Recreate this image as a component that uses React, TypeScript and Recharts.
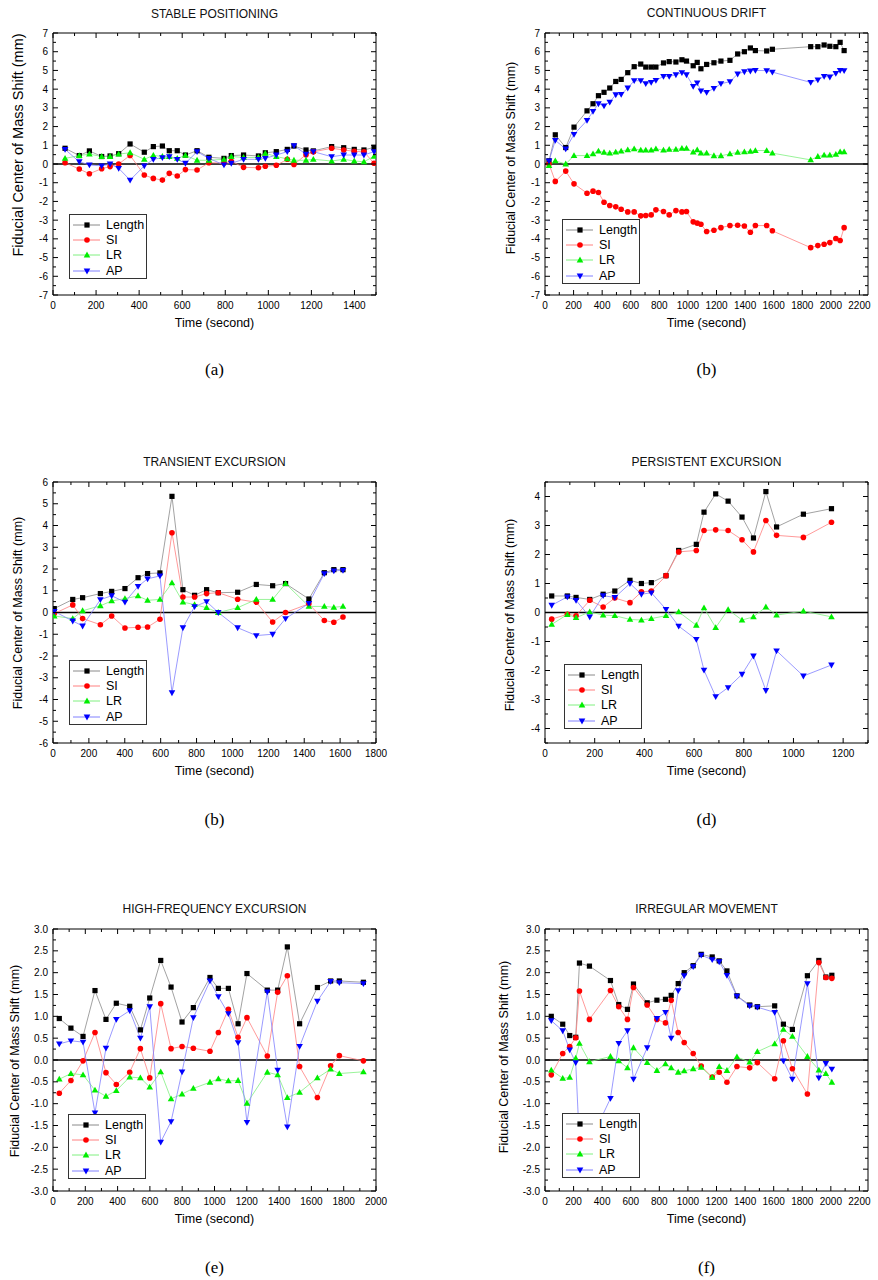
import React from "react"
import {
  LineChart,
  Line,
  XAxis,
  YAxis,
  ReferenceLine,
  ReferenceArea,
  Legend,
} from "recharts"

const FONT = '"Liberation Sans", Arial, Helvetica, sans-serif'
const Y_W = 40
const X_H = 30

// (a) stable positioning
const stableTime = [56, 122, 169, 226, 265, 305, 358, 424, 466, 508, 540, 577, 615, 669, 724, 794, 828, 885, 954, 986, 1037, 1088, 1119, 1175, 1209, 1294, 1350, 1399, 1444, 1491]
const stableLength = [0.84, 0.45, 0.7, 0.4, 0.43, 0.55, 1.07, 0.63, 0.93, 0.96, 0.71, 0.71, 0.48, 0.71, 0.36, 0.3, 0.45, 0.48, 0.43, 0.6, 0.66, 0.78, 0.96, 0.75, 0.7, 0.93, 0.87, 0.78, 0.75, 0.89]
const stableSI = [0.07, -0.27, -0.52, -0.25, -0.14, 0.0, 0.46, -0.59, -0.77, -0.86, -0.5, -0.64, -0.3, -0.32, 0.07, 0.05, 0.15, -0.18, -0.2, -0.12, -0.07, 0.25, -0.03, 0.5, 0.65, 0.84, 0.75, 0.68, 0.65, 0.04]
const stableLR = [0.3, 0.45, 0.53, 0.4, 0.4, 0.53, 0.6, 0.25, 0.46, 0.4, 0.4, 0.3, 0.46, 0.2, 0.2, 0.25, 0.4, 0.35, 0.35, 0.57, 0.4, 0.27, 0.2, 0.2, 0.25, 0.16, 0.25, 0.16, 0.12, 0.41]
const stableAP = [0.78, 0.12, -0.05, -0.1, 0.0, -0.23, -0.86, -0.1, 0.25, 0.34, 0.39, 0.25, 0.04, 0.66, 0.3, -0.05, 0.04, 0.25, 0.25, 0.3, 0.48, 0.66, 0.98, 0.52, 0.66, 0.39, 0.48, 0.48, 0.48, 0.66]

// (b) continuous drift
const driftTime = [28, 72, 145, 203, 294, 336, 374, 413, 453, 495, 533, 579, 624, 670, 705, 743, 776, 829, 869, 916, 958, 990, 1037, 1065, 1091, 1131, 1182, 1231, 1294, 1348, 1395, 1437, 1472, 1551, 1591, 1859, 1909, 1953, 1993, 2035, 2065, 2093]
const driftLength = [0.17, 1.56, 0.88, 1.97, 2.84, 3.22, 3.65, 3.83, 4.06, 4.41, 4.52, 4.88, 5.2, 5.34, 5.18, 5.18, 5.18, 5.4, 5.47, 5.45, 5.57, 5.5, 5.25, 5.43, 5.09, 5.32, 5.41, 5.5, 5.54, 5.88, 6.0, 6.2, 6.06, 6.04, 6.13, 6.27, 6.27, 6.36, 6.29, 6.27, 6.5, 6.06]
const driftSI = [0.0, -0.93, -0.38, -1.06, -1.56, -1.45, -1.52, -2.04, -2.22, -2.29, -2.42, -2.56, -2.56, -2.77, -2.75, -2.72, -2.45, -2.54, -2.72, -2.49, -2.56, -2.54, -3.09, -3.16, -3.22, -3.61, -3.54, -3.4, -3.29, -3.27, -3.31, -3.65, -3.29, -3.29, -3.57, -4.47, -4.36, -4.29, -4.2, -3.98, -4.09, -3.4]
const driftLR = [-0.08, 0.17, 0.0, 0.45, 0.45, 0.54, 0.69, 0.62, 0.58, 0.63, 0.69, 0.76, 0.81, 0.74, 0.74, 0.74, 0.81, 0.74, 0.78, 0.78, 0.83, 0.83, 0.63, 0.76, 0.58, 0.58, 0.44, 0.44, 0.54, 0.62, 0.65, 0.67, 0.72, 0.72, 0.58, 0.22, 0.4, 0.47, 0.47, 0.51, 0.65, 0.65]
const driftAP = [0.17, 1.26, 0.81, 1.58, 2.33, 2.81, 3.22, 3.11, 3.31, 3.7, 3.72, 4.06, 4.45, 4.45, 4.29, 4.36, 4.47, 4.68, 4.68, 4.77, 4.88, 4.77, 4.15, 4.34, 3.91, 3.83, 4.04, 4.29, 4.4, 4.81, 4.93, 4.97, 5.0, 4.99, 4.91, 4.36, 4.5, 4.68, 4.65, 4.84, 5.0, 4.99]

// (c) transient excursion
const transientTime = [7, 110, 165, 264, 327, 401, 474, 527, 596, 663, 724, 789, 856, 921, 1029, 1133, 1224, 1296, 1426, 1512, 1565, 1616]
const transientLength = [0.18, 0.6, 0.68, 0.87, 0.97, 1.1, 1.6, 1.79, 1.82, 5.34, 1.05, 0.79, 1.05, 0.91, 0.93, 1.29, 1.23, 1.33, 0.62, 1.83, 1.97, 1.97]
const transientSI = [-0.05, 0.35, -0.28, -0.56, -0.16, -0.71, -0.68, -0.67, -0.31, 3.67, 0.71, 0.71, 0.87, 0.91, 0.61, 0.47, -0.44, 0.0, 0.4, -0.37, -0.45, -0.21]
const transientLR = [-0.16, -0.28, 0.08, 0.31, 0.53, 0.64, 0.76, 0.56, 0.6, 1.36, 0.48, 0.36, 0.22, 0.0, 0.22, 0.6, 0.6, 1.33, 0.28, 0.28, 0.24, 0.28]
const transientAP = [0.05, -0.39, -0.62, 0.59, 0.77, 0.48, 1.2, 1.55, 1.68, -3.69, -0.7, 0.27, 0.5, 0.0, -0.7, -1.06, -1.0, -0.28, 0.42, 1.79, 1.91, 1.94]

// (d) persistent excursion
const persistentTime = [27, 90, 125, 180, 234, 281, 342, 388, 428, 487, 538, 609, 640, 687, 737, 793, 839, 889, 932, 1040, 1153]
const persistentLength = [0.57, 0.57, 0.52, 0.45, 0.63, 0.74, 1.11, 1.0, 1.03, 1.27, 2.14, 2.35, 3.46, 4.09, 3.84, 3.29, 2.57, 4.17, 2.95, 3.39, 3.58]
const persistentSI = [-0.23, -0.06, -0.11, 0.42, 0.19, 0.5, 0.34, 0.71, 0.74, 1.27, 2.09, 2.14, 2.83, 2.85, 2.83, 2.51, 2.09, 3.17, 2.66, 2.59, 3.11]
const persistentLR = [-0.41, -0.07, -0.18, 0.02, -0.09, -0.11, -0.24, -0.26, -0.21, -0.11, 0.02, -0.44, 0.16, -0.52, 0.1, -0.26, -0.15, 0.19, -0.09, 0.05, -0.15]
const persistentAP = [0.25, 0.54, 0.42, -0.15, 0.58, 0.52, 1.0, 0.63, 0.68, 0.11, -0.47, -0.93, -1.99, -2.9, -2.59, -2.13, -1.5, -2.69, -1.32, -2.19, -1.81]

// (e) high-frequency excursion
const highFreqTime = [39, 111, 186, 260, 328, 392, 475, 541, 599, 667, 731, 799, 869, 972, 1024, 1086, 1146, 1201, 1327, 1391, 1451, 1527, 1637, 1719, 1773, 1922]
const highFreqLength = [0.95, 0.73, 0.54, 1.59, 0.93, 1.3, 1.23, 0.69, 1.42, 2.28, 1.67, 0.87, 1.2, 1.89, 1.64, 1.64, 0.83, 1.98, 1.6, 1.6, 2.59, 0.83, 1.66, 1.81, 1.81, 1.78]
const highFreqSI = [-0.76, -0.47, -0.02, 0.63, -0.29, -0.56, -0.28, 0.26, -0.41, 1.29, 0.26, 0.31, 0.27, 0.2, 0.63, 1.16, 0.52, 0.97, 0.09, 1.55, 1.93, -0.15, -0.86, -0.13, 0.1, -0.02]
const highFreqLR = [-0.44, -0.31, -0.34, -0.69, -0.83, -0.7, -0.39, -0.41, -0.62, -0.27, -0.89, -0.78, -0.65, -0.51, -0.43, -0.48, -0.47, -0.99, -0.28, -0.34, -0.86, -0.74, -0.41, -0.21, -0.31, -0.27]
const highFreqAP = [0.37, 0.44, 0.41, -1.21, 0.27, 0.93, 1.13, 0.5, 1.22, -1.88, -1.41, -0.27, 0.97, 1.81, 1.45, 1.06, 0.4, -1.43, 1.56, -0.23, -1.53, 0.31, 1.35, 1.8, 1.77, 1.75]

// (f) irregular movement
const irregularTime = [44, 124, 173, 215, 241, 311, 458, 516, 577, 619, 715, 783, 843, 883, 932, 974, 1037, 1093, 1170, 1219, 1273, 1343, 1432, 1486, 1607, 1668, 1731, 1836, 1916, 1965, 2007]
const irregularLength = [1.0, 0.82, 0.56, 0.52, 2.22, 2.15, 1.82, 1.27, 1.16, 1.74, 1.31, 1.37, 1.39, 1.48, 1.75, 2.0, 2.16, 2.42, 2.36, 2.27, 2.04, 1.47, 1.26, 1.22, 1.24, 0.82, 0.7, 1.93, 2.28, 1.9, 1.94]
const irregularSI = [-0.34, 0.15, 0.31, 0.51, 1.58, 0.93, 1.59, 1.22, 0.93, 1.66, 1.26, 0.93, 0.85, 1.37, 0.63, 0.4, 0.15, -0.14, -0.39, -0.28, -0.51, -0.15, -0.18, -0.06, -0.43, 0.44, -0.2, -0.78, 2.23, 1.89, 1.87]
const irregularLR = [-0.23, -0.42, -0.4, 0.04, 0.38, -0.04, 0.08, -0.02, -0.18, 0.28, -0.06, -0.24, -0.09, -0.18, -0.28, -0.25, -0.2, -0.17, -0.4, -0.15, -0.24, 0.07, -0.05, 0.19, 0.37, 0.7, 0.54, 0.08, -0.23, -0.31, -0.51]
const irregularAP = [0.9, 0.67, 0.23, -0.06, -1.9, -1.9, -0.88, 0.38, 0.67, -0.44, 0.28, 0.95, 1.09, 0.5, 1.59, 1.93, 2.14, 2.4, 2.3, 2.25, 1.94, 1.46, 1.24, 1.21, 1.09, -0.02, -0.44, 1.75, -0.41, -0.08, -0.21]

// tick labels
const xTicks1200 = [0, 200, 400, 600, 800, 1000, 1200]
const xTicks1400 = [0, 200, 400, 600, 800, 1000, 1200, 1400]
const xTicks1800 = [0, 200, 400, 600, 800, 1000, 1200, 1400, 1600, 1800]
const xTicks2000 = [0, 200, 400, 600, 800, 1000, 1200, 1400, 1600, 1800, 2000]
const xTicks2200 = [0, 200, 400, 600, 800, 1000, 1200, 1400, 1600, 1800, 2000, 2200]
const yTicks7 = [-7, -6, -5, -4, -3, -2, -1, 0, 1, 2, 3, 4, 5, 6, 7]
const yTicks6 = [-6, -5, -4, -3, -2, -1, 0, 1, 2, 3, 4, 5, 6]
const yTicks4 = [-4, -3, -2, -1, 0, 1, 2, 3, 4]
const yTicks3 = [-3, -2.5, -2, -1.5, -1, -0.5, 0, 0.5, 1, 1.5, 2, 2.5, 3]

const SERIES = [
  { key: "Length", dot: "#000000", line: "#8a8a8a", shape: "square" },
  { key: "SI", dot: "#ff0000", line: "#ff8080", shape: "circle" },
  { key: "LR", dot: "#00ee00", line: "#80f080", shape: "up" },
  { key: "AP", dot: "#0000ff", line: "#8080ff", shape: "down" },
]

const PANELS = [
  {
    title: "STABLE POSITIONING", tag: "(a)", left: 0, top: 0, width: 400, height: 340,
    plot: { l: 53, t: 33, r: 376, b: 295 }, titleY: 14, tagY: 370,
    xDomain: [0, 1500], xMajor: xTicks1400, yDomain: [-7, 7], yMajor: yTicks7, yDec: 0,
    yLabel: { x: 18, y: 145, size: 14.5 }, legend: { x: 69, y: 214 },
    time: stableTime, length: stableLength, si: stableSI, lr: stableLR, ap: stableAP,
  },
  {
    title: "CONTINUOUS DRIFT", tag: "(b)", left: 440, top: 0, width: 438, height: 340,
    plot: { l: 105, t: 33, r: 428, b: 295 }, titleY: 13, tagY: 370,
    xDomain: [0, 2260], xMajor: xTicks2200, yDomain: [-7, 7], yMajor: yTicks7, yDec: 0,
    yLabel: { x: 71, y: 158, size: 12.5 }, legend: { x: 122, y: 219 },
    time: driftTime, length: driftLength, si: driftSI, lr: driftLR, ap: driftAP,
  },
  {
    title: "TRANSIENT EXCURSION", tag: "(b)", left: 0, top: 440, width: 400, height: 340,
    plot: { l: 53, t: 42, r: 376, b: 303 }, titleY: 22, tagY: 380,
    xDomain: [0, 1800], xMajor: xTicks1800, yDomain: [-6, 6], yMajor: yTicks6, yDec: 0,
    yLabel: { x: 18, y: 173, size: 12.5 }, legend: { x: 69, y: 220 },
    time: transientTime, length: transientLength, si: transientSI, lr: transientLR, ap: transientAP,
  },
  {
    title: "PERSISTENT EXCURSION", tag: "(d)", left: 440, top: 440, width: 438, height: 340,
    plot: { l: 105, t: 42, r: 428, b: 303 }, titleY: 22, tagY: 380,
    xDomain: [0, 1300], xMajor: xTicks1200, yDomain: [-4.5, 4.5], yMajor: yTicks4, yDec: 0,
    yLabel: { x: 70, y: 175, size: 12.5 }, legend: { x: 124, y: 224 },
    time: persistentTime, length: persistentLength, si: persistentSI, lr: persistentLR, ap: persistentAP,
  },
  {
    title: "HIGH-FREQUENCY EXCURSION", tag: "(e)", left: 0, top: 870, width: 400, height: 360,
    plot: { l: 53, t: 59, r: 376, b: 321 }, titleY: 39, tagY: 398,
    xDomain: [0, 2000], xMajor: xTicks2000, yDomain: [-3, 3], yMajor: yTicks3, yDec: 1,
    yLabel: { x: 15, y: 191, size: 12.5 }, legend: { x: 68, y: 244 },
    time: highFreqTime, length: highFreqLength, si: highFreqSI, lr: highFreqLR, ap: highFreqAP,
  },
  {
    title: "IRREGULAR MOVEMENT", tag: "(f)", left: 440, top: 870, width: 438, height: 360,
    plot: { l: 105, t: 59, r: 428, b: 321 }, titleY: 39, tagY: 398,
    xDomain: [0, 2260], xMajor: xTicks2200, yDomain: [-3, 3], yMajor: yTicks3, yDec: 1,
    yLabel: { x: 64, y: 187, size: 12.5 }, legend: { x: 122, y: 243 },
    time: irregularTime, length: irregularLength, si: irregularSI, lr: irregularLR, ap: irregularAP,
  },
]

// majors plus the half-step minors inside the domain
function allTicks(major: number[], domain: number[]) {
  const half = (major[1] - major[0]) / 2
  const out: number[] = []
  for (let v = Math.ceil(domain[0] / half - 1e-9) * half; v <= domain[1] + 1e-9; v += half) {
    out.push(+v.toFixed(4))
  }
  return out
}

const isMajor = (list: number[], v: number) => list.some((m) => Math.abs(m - v) < 1e-6)

function Marker({ cx, cy, shape, color }: any) {
  if (cx == null || cy == null) return null
  if (shape === "square") return <rect x={cx - 2.6} y={cy - 2.6} width={5.2} height={5.2} fill={color} />
  if (shape === "circle") return <circle cx={cx} cy={cy} r={2.8} fill={color} />
  if (shape === "up") return <path d={`M${cx},${cy - 3.4}L${cx + 3.3},${cy + 2.4}L${cx - 3.3},${cy + 2.4}Z`} fill={color} />
  return <path d={`M${cx},${cy + 3.4}L${cx + 3.3},${cy - 2.4}L${cx - 3.3},${cy - 2.4}Z`} fill={color} />
}

function LegendBox() {
  return (
    <div style={{ width: 76, height: 61, border: "1px solid #333", background: "#fff", paddingTop: 2, fontFamily: FONT }}>
      {SERIES.map((s) => (
        <div key={s.key} style={{ display: "flex", alignItems: "center", height: 15.4 }}>
          <svg width={34} height={12} style={{ flex: "none" }}>
            <line x1={3} x2={30} y1={6} y2={6} stroke={s.line} strokeWidth={1} />
            <Marker cx={17} cy={6} shape={s.shape} color={s.dot} />
          </svg>
          <span style={{ fontSize: 12.5, lineHeight: "14px", marginLeft: 2 }}>{s.key}</span>
        </div>
      ))}
    </div>
  )
}

function Panel({ p }: { p: any }) {
  const { plot } = p
  const data = p.time.map((t: number, i: number) => ({
    t,
    Length: p.length[i],
    SI: p.si[i],
    LR: p.lr[i],
    AP: p.ap[i],
  }))
  const xAll = allTicks(p.xMajor, p.xDomain)
  const yAll = allTicks(p.yMajor, p.yDomain)

  const xTick = (props: any) => {
    const v = props.payload.value
    const maj = isMajor(p.xMajor, v)
    const len = maj ? 5 : 3
    return (
      <g>
        <line x1={props.x} x2={props.x} y1={plot.b} y2={plot.b - len} stroke="#000" />
        <line x1={props.x} x2={props.x} y1={plot.t} y2={plot.t + len} stroke="#000" />
        {maj && (
          <text x={props.x} y={plot.b + 14} textAnchor="middle" fontSize={10} fontFamily={FONT} fill="#000">
            {v}
          </text>
        )}
      </g>
    )
  }

  const yTick = (props: any) => {
    const v = props.payload.value
    const maj = isMajor(p.yMajor, v)
    const len = maj ? 5 : 3
    return (
      <g>
        <line x1={plot.l} x2={plot.l + len} y1={props.y} y2={props.y} stroke="#000" />
        <line x1={plot.r} x2={plot.r - len} y1={props.y} y2={props.y} stroke="#000" />
        {maj && (
          <text x={plot.l - 5} y={props.y + 3.5} textAnchor="end" fontSize={10} fontFamily={FONT} fill="#000">
            {v.toFixed(p.yDec)}
          </text>
        )}
      </g>
    )
  }

  return (
    <div style={{ position: "absolute", left: p.left, top: p.top, width: p.width, height: p.height }}>
      <LineChart
        width={p.width}
        height={p.height}
        data={data}
        margin={{ top: plot.t, left: plot.l - Y_W, right: p.width - plot.r, bottom: p.height - plot.b - X_H }}
      >
        <XAxis
          dataKey="t"
          type="number"
          domain={p.xDomain}
          ticks={xAll}
          interval={0}
          allowDataOverflow
          tickSize={0}
          tickLine={false}
          axisLine={false}
          height={X_H}
          tick={xTick}
          label={() => (
            <text x={(plot.l + plot.r) / 2} y={plot.b + 32} textAnchor="middle" fontSize={12.5} fontFamily={FONT} fill="#000">
              Time (second)
            </text>
          )}
        />
        <YAxis
          type="number"
          domain={p.yDomain}
          ticks={yAll}
          interval={0}
          allowDataOverflow
          tickSize={0}
          tickLine={false}
          axisLine={false}
          width={Y_W}
          tick={yTick}
          label={() => (
            <text
              transform={`translate(${p.yLabel.x},${p.yLabel.y}) rotate(-90)`}
              textAnchor="middle"
              dominantBaseline="central"
              fontSize={p.yLabel.size}
              fontFamily={FONT}
              fill="#000"
            >
              Fiducial Center of Mass Shift (mm)
            </text>
          )}
        />
        <ReferenceArea x1={p.xDomain[0]} x2={p.xDomain[1]} y1={p.yDomain[0]} y2={p.yDomain[1]} fill="none" stroke="#000" strokeWidth={1} />
        <ReferenceLine y={0} stroke="#000" strokeWidth={1.3} />
        {SERIES.map((s) => (
          <Line
            key={s.key}
            type="linear"
            dataKey={s.key}
            stroke={s.line}
            strokeWidth={0.8}
            activeDot={false}
            isAnimationActive={false}
            dot={(d: any) => <Marker key={`${s.key}-${d.index}`} cx={d.cx} cy={d.cy} shape={s.shape} color={s.dot} />}
          />
        ))}
        <Legend
          layout="vertical"
          align="center"
          verticalAlign="middle"
          wrapperStyle={{ left: p.legend.x, top: p.legend.y, width: 78, height: 63 }}
          content={() => <LegendBox />}
        />
      </LineChart>
      <div
        style={{
          position: "absolute",
          left: (plot.l + plot.r) / 2 - 150,
          width: 300,
          top: p.titleY - 8,
          lineHeight: "16px",
          textAlign: "center",
          fontFamily: FONT,
          fontSize: 12,
          color: "#111",
        }}
      >
        {p.title}
      </div>
      <div
        style={{
          position: "absolute",
          left: (plot.l + plot.r) / 2 - 30,
          width: 60,
          top: p.tagY - 10,
          lineHeight: "20px",
          textAlign: "center",
          fontFamily: '"Liberation Serif", "Times New Roman", serif',
          fontSize: 17,
          color: "#000",
        }}
      >
        {p.tag}
      </div>
    </div>
  )
}

export default function App() {
  return (
    <div style={{ position: "absolute", left: 0, top: 0, width: 878, height: 1280, background: "#fff" }}>
      {PANELS.map((p) => (
        <Panel key={p.title} p={p} />
      ))}
    </div>
  )
}
